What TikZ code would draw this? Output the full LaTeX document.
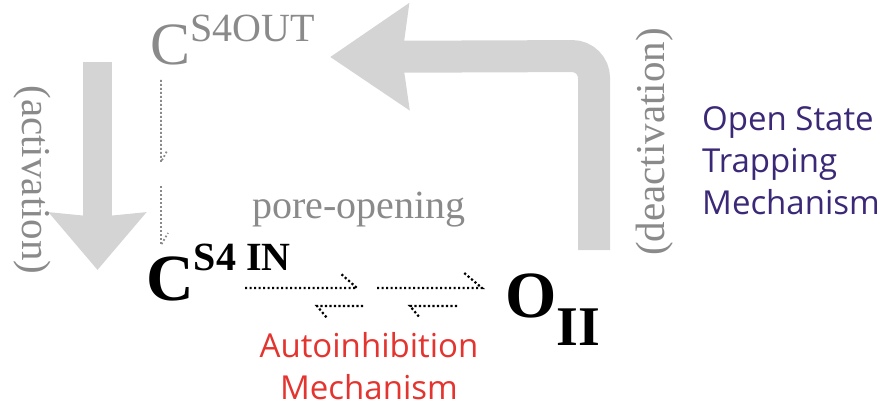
\documentclass[tikz,border=0pt]{standalone}
\usepackage{fontspec}
\setmainfont{Liberation Serif}
\setsansfont{Open Sans}
\usepackage{tikz}
\usetikzlibrary{arrows.meta}
\definecolor{txtgray}{HTML}{8A8A8A}
\definecolor{arrgray}{HTML}{D4D4D4}
\definecolor{autored}{HTML}{E3342F}
\definecolor{trappurple}{HTML}{3B2876}
\tikzstyle{state} = [inner sep=0pt, anchor=base west]
\tikzstyle{sidelabel} = [inner sep=0pt, anchor=base, text=txtgray, font=\fontsize{41}{41}\selectfont]
\tikzstyle{mech} = [inner sep=0pt, font=\sffamily\fontsize{33}{42}\selectfont]
\tikzstyle{bigarrow} = [draw=arrgray, line width=30pt]
\tikzstyle{gdots} = [draw=txtgray, line width=1.8pt, dash pattern=on 1.8pt off 2.2pt]
\tikzstyle{kdots} = [draw=black, line width=2.2pt, dash pattern=on 2.2pt off 2.3pt]

\begin{document}
\begin{tikzpicture}[x=1pt, y=-1pt]
    \useasboundingbox (0,0) rectangle (885,406);

    \draw [bigarrow, line width=29pt, -{Stealth[length=57pt, width=95pt, inset=4pt]}] (97.5,62) -- (97.5,270);
    \draw [bigarrow, line width=32pt, rounded corners=22pt, -{Stealth[length=78pt, width=103pt, inset=6pt]}] (594,250) -- (594,56) -- (330,57);

    \node (cout) [state, text=txtgray] at (150,65) {\fontsize{60}{60}\selectfont C\raisebox{23pt}{\fontsize{40}{40}\selectfont S4OUT}};
    \node (cin) [state] at (146,300) {\bfseries\fontsize{66}{66}\selectfont C\raisebox{30pt}{\fontsize{40}{40}\selectfont S4 IN}};
    \node (oii) [state] at (505,317) {\bfseries\fontsize{66}{66}\selectfont O\raisebox{-28pt}{\fontsize{56}{56}\selectfont II}};
    \node (pore) [state, text=txtgray, font=\fontsize{40}{40}\selectfont] at (252,218) {pore-opening};

    \node (act) [sidelabel, rotate=-90] at (22,180) {(activation)};
    \node (deact) [sidelabel, rotate=90] at (664,142) {(deactivation)};

    \node (auto) [mech, text=autored, align=center, anchor=north] at (369,332) {Autoinhibition\\Mechanism};
    \node (trap) [mech, text=trappurple, align=left, anchor=north west] at (702,106) {Open State\\Trapping\\Mechanism};

    \coordinate (g1) at (161,80);
    \coordinate (g2) at (161,162);
    \coordinate (g3) at (161,186);
    \coordinate (g4) at (161,245);
    \draw [gdots] (g1) -- (g2) -- ++(6,-11);
    \draw [gdots] (g3) -- (g4) -- ++(7,-12);

    \coordinate (f1) at (245,288);
    \coordinate (f2) at (357,288);
    \coordinate (b1) at (363,306);
    \coordinate (b2) at (317,306);
    \coordinate (f3) at (377,288);
    \coordinate (f4) at (482,288);
    \coordinate (b3) at (457,306);
    \coordinate (b4) at (410,306);
    \draw [kdots] (f1) -- (f2) -- ++(-17,-15);
    \draw [kdots] (b1) -- (b2) -- ++(10,12);
    \draw [kdots] (f3) -- (f4) -- ++(-19,-16);
    \draw [kdots] (b3) -- (b4) -- ++(10,12);
\end{tikzpicture}
\end{document}
